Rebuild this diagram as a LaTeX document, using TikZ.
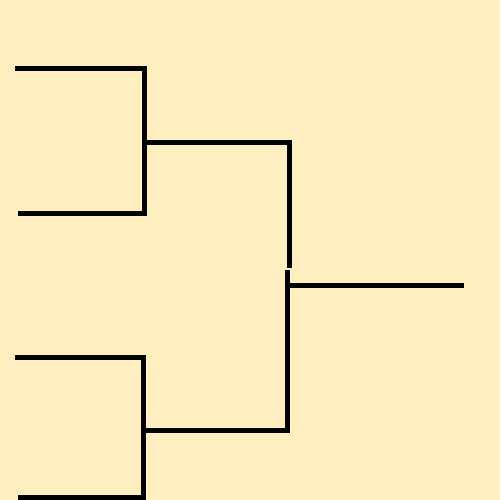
\documentclass[tikz,border=0pt]{standalone}
\usepackage{tikz}
\definecolor{paper}{RGB}{255,239,192}

\begin{document}
\begin{tikzpicture}[x=0.02cm,y=-0.02cm,line width=0.1cm,line join=miter,line cap=butt]
	\fill[paper] (0,0) rectangle (500,500);
	\useasboundingbox (0,0) rectangle (500,500);
	% first round, upper half
	\coordinate (A1) at (15,69);
	\coordinate (A2) at (18,213);
	\coordinate (J1) at (144,69);
	\coordinate (J2) at (144,213);
	\coordinate (M1) at (144,142);
	% first round, lower half
	\coordinate (B1) at (15,357.5);
	\coordinate (B2) at (18,497.5);
	\coordinate (K1) at (143.7,357.5);
	\coordinate (K2) at (143.7,497.5);
	\coordinate (M2) at (143.7,430);
	\coordinate (S) at (216,430);
	% second round and final
	\coordinate (R1) at (289,142);
	\coordinate (R1b) at (289,268);
	\coordinate (R2) at (287.5,430);
	\coordinate (R2t) at (287.5,270);
	\coordinate (F) at (285,285);
	\coordinate (W) at (464,285);
	\draw (A1) -- (J1) -- (J2) -- (A2);
	\draw (B1) -- (K1) -- (K2) -- (B2);
	\draw (M1) -- (R1) -- (R1b);
	\draw (M2) -- (S);
	\draw (S) -- (R2) -- (R2t);
	\draw (F) -- (W);
\end{tikzpicture}
\end{document}
